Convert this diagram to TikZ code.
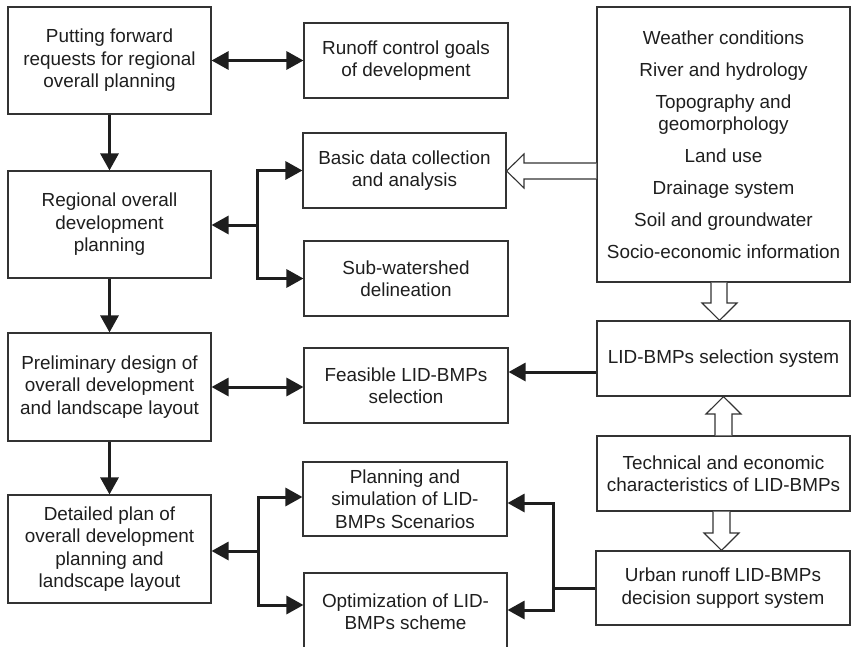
\documentclass[tikz,border=0pt]{standalone}
\usepackage{fontspec}
\setmainfont{Liberation Sans}
\usetikzlibrary{arrows.meta,calc}
\definecolor{ink}{HTML}{1E1E1E}
\definecolor{edge}{HTML}{333333}
\tikzset{
  box/.style={draw=edge, line width=1.1pt, inner sep=0pt, align=center, text=ink,
    font=\fontsize{18.9}{22.5}\selectfont},
  tip/.tip={Triangle[length=17pt,width=18pt]},
  arr/.style={draw=ink, line width=3pt, -tip},
  biarr/.style={draw=ink, line width=3pt, tip-tip},
  hollow/.style={draw=edge, line width=1.1pt, fill=white, line join=miter},
}
\begin{document}
\begin{tikzpicture}[x=1pt,y=-1pt]
\useasboundingbox (0,0) rectangle (851,647);
\clip (0,0) rectangle (851,647);
% left column
\node[box, minimum width=203pt, minimum height=107pt] (A) at (109.5,60.5) {Putting forward\\requests for regional\\overall planning};
\node[box, minimum width=203pt, minimum height=107pt] (C) at (109.5,224.5) {Regional overall\\development\\planning};
\node[box, minimum width=203pt, minimum height=108pt] (F) at (109.5,387) {Preliminary design of\\overall development\\and landscape layout};
\node[box, minimum width=203pt, minimum height=108pt] (H) at (109.5,549) {Detailed plan of\\overall development\\planning and\\landscape layout};
% middle column
\node[box, minimum width=204pt, minimum height=75pt] (B) at (406,60.5) {Runoff control goals\\of development};
\node[box, minimum width=203pt, minimum height=75pt] (D) at (404.5,170.5) {Basic data collection\\and analysis};
\node[box, minimum width=204pt, minimum height=75pt] (E) at (406,278.5) {Sub-watershed\\delineation};
\node[box, minimum width=204pt, minimum height=75pt] (G) at (406,385.5) {Feasible LID-BMPs\\selection};
\node[box, minimum width=204pt, minimum height=74pt] (I) at (405,499) {Planning and\\simulation of LID-\\BMPs Scenarios};
\node[box, minimum width=203pt, minimum height=77pt] (J) at (405.5,611.5) {Optimization of LID-\\BMPs scheme};
% right column
\node[box, minimum width=253pt, minimum height=275pt] (K) at (723.5,144.5) {Weather conditions\\[9.5pt]River and hydrology\\[9.5pt]Topography and\\geomorphology\\[9.5pt]Land use\\[9.5pt]Drainage system\\[9.5pt]Soil and groundwater\\[9.5pt]Socio-economic information};
\node[box, minimum width=253pt, minimum height=75pt] (L) at (723.5,358.5) {LID-BMPs selection system};
\node[box, minimum width=253pt, minimum height=75pt] (M) at (723.5,473.5) {Technical and economic\\characteristics of LID-BMPs};
\node[box, minimum width=254pt, minimum height=74pt] (N) at (723,588) {Urban runoff LID-BMPs\\decision support system};
% vertical flow
\draw[arr] (A.south) -- (C.north);
\draw[arr] (C.south) -- (F.north);
\draw[arr] (F.south) -- (H.north);
% two-way arrows
\draw[biarr] (A.east) -- (A.east -| B.west);
\draw[biarr] (F.east) -- (F.east -| G.west);
% branch from C
\coordinate (bC) at (257,225);
\draw[arr] (bC) -- (bC -| C.east);
\draw[arr] (bC) |- (D.west);
\draw[arr] (bC) |- (E.west);
% branch from H
\coordinate (bH) at (258,551);
\draw[arr] (bH) -- (bH -| H.east);
\draw[arr] (bH) |- ([yshift=2pt]I.west);
\draw[arr] (bH) |- ([yshift=6.5pt]J.west);
% branch from N
\coordinate (bN) at (553,588);
\draw[draw=ink, line width=3pt] (N.west) -- (bN);
\draw[arr] (bN) |- ([yshift=-4pt]I.east);
\draw[arr] (bN) |- ([yshift=1.5pt]J.east);
% L to G
\coordinate (lg) at ([yshift=-13.5pt]L.west);
\draw[arr] (lg) -- (lg -| G.east);
% hollow arrows
\draw[hollow] (K.west |- 0,163) -- (524,163) -- (524,154) -- (D.east |- 0,171) -- (524,188) -- (524,179) -- (K.west |- 0,179);
\draw[hollow] (711,0 |- K.south) -- (711,303) -- (702,303) -- (719.5,0 |- L.north) -- (737,303) -- (727,303) -- (727,0 |- K.south);
\draw[hollow] (715,0 |- M.north) -- (715,414) -- (706,414) -- (723.5,0 |- L.south) -- (741,414) -- (732,414) -- (732,0 |- M.north);
\draw[hollow] (713,0 |- M.south) -- (713,533) -- (704,533) -- (721.5,0 |- N.north) -- (739,533) -- (730,533) -- (730,0 |- M.south);
\end{tikzpicture}
\end{document}
